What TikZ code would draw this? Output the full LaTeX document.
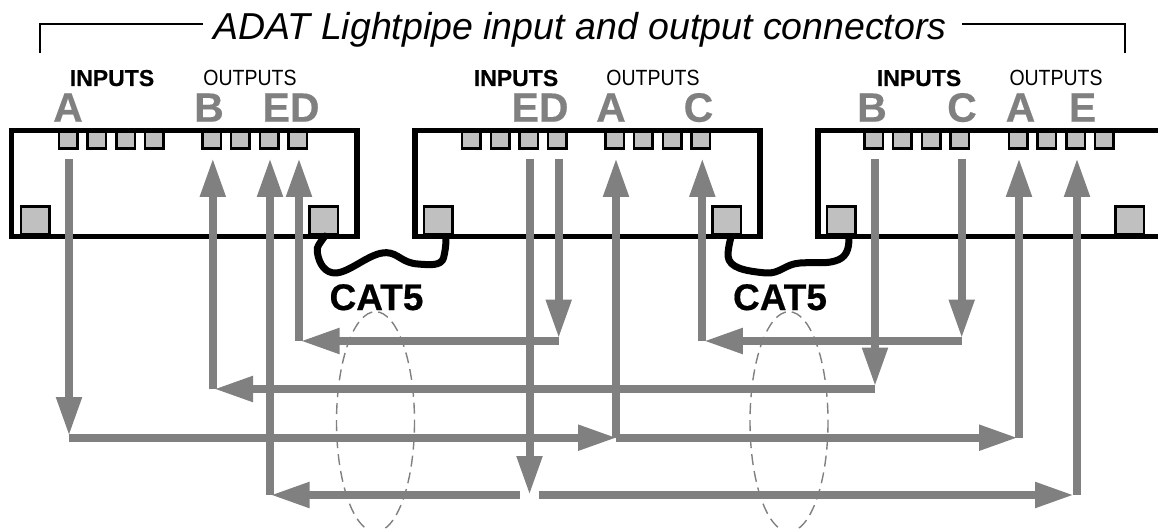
\documentclass[tikz,border=0pt]{standalone}
\usepackage{fontspec}
\usetikzlibrary{arrows.meta}
\setmainfont{Liberation Sans}
\newfontfamily\heavyfont[FakeBold=0.5]{Liberation Sans Bold}
\newfontfamily\letterfont[FakeBold=0.4]{Liberation Sans Bold}
\definecolor{arrowgray}{HTML}{808080}
\definecolor{portfill}{HTML}{C0C0C0}
\tikzset{
  x=1pt,y=-1pt,
  unitbox/.style={draw=black,line width=5.5pt,miter limit=10},
  smallport/.style={draw=black,line width=2.8pt,fill=portfill,anchor=north west,inner sep=0pt,outer sep=0pt,minimum width=18.5pt,minimum height=17pt},
  bigport/.style={draw=black,line width=2.8pt,fill=portfill,anchor=north west,inner sep=0pt,outer sep=0pt,minimum width=28.5pt,minimum height=28pt},
  signal/.style={draw=arrowgray,line width=8pt},
  signalarrow/.style={signal,-{Triangle[length=39pt,width=24pt,fill=arrowgray]}},
  letter/.style={anchor=base,text=arrowgray,font=\fontsize{41}{41}\selectfont\letterfont,inner sep=0pt},
  ins/.style={anchor=base,font=\fontsize{23}{23}\selectfont\heavyfont,inner sep=0pt},
  outs/.style={anchor=base,font=\fontsize{22}{22}\selectfont,inner sep=0pt},
  catlabel/.style={anchor=base,font=\fontsize{37}{37}\selectfont\heavyfont,inner sep=0pt},
  cable/.style={draw=black,line width=7pt,line cap=round,line join=round},
  bracket/.style={draw=black,line width=2pt},
  halo/.style={draw=arrowgray,line width=1.4pt,dash pattern=on 11pt off 6pt},
}
\begin{document}
\begin{tikzpicture}
\useasboundingbox (0,0) rectangle (1158,529);
% title and bracket
\coordinate (bl0) at (40,53);
\coordinate (bl1) at (40,24);
\coordinate (bl2) at (203,24);
\coordinate (br0) at (1125,53);
\coordinate (br1) at (1125,24);
\coordinate (br2) at (962,24);
\draw[bracket] (bl0) -- (bl1) -- (bl2);
\draw[bracket] (br0) -- (br1) -- (br2);
\node[anchor=base,inner sep=0pt,font=\fontsize{37.5}{37.5}\selectfont\itshape] (title) at (580,39.3) {ADAT Lightpipe input and output connectors};
% boxes
\draw[unitbox] (11.5,130.3) rectangle (357,236.3);
\draw[unitbox] (415,130.3) rectangle (760,236.3);
\draw[unitbox] (1158,130.3) -- (818,130.3) -- (818,236.3) -- (1158,236.3);
% ports
\foreach \x [count=\i] in {59,87.5,116.5,145,202.5,231,260,288.5,
  462,491,519.5,548,605.5,634,663,691.5,
  864.5,893,922,950.5,1009,1037.5,1066.5,1095}{\node[smallport] (sp\i) at (\x,131.5) {};}
\foreach \x [count=\i] in {21,309.5,424,712.5,827,1115.5}{\node[bigport] (bp\i) at (\x,206.8) {};}
% labels
\foreach \x/\t [count=\i] in {112/INPUTS,516/INPUTS,919/INPUTS}{\node[ins] (in\i) at (\x,86) {\t};}
\foreach \x/\t [count=\i] in {250/OUTPUTS,653/OUTPUTS,1056/OUTPUTS}{\node[outs] (out\i) at (\x,86) {\scalebox{.885}[1]{\t}};}
\foreach \x/\t [count=\i] in {68/A,209/B,291/ED,540/ED,611/A,698.5/C,872/B,962/C,1020.5/A,1082.5/E}{\node[letter] (let\i) at (\x,121.7) {\t};}
% cables
\draw[cable] (325,236) .. controls (320,243) and (316,247) .. (317.3,252) .. controls (319,265) and (326,273) .. (335,273) .. controls (350,273) and (370,252) .. (386.7,252.7) .. controls (398,253) and (402,263) .. (418,264) .. controls (430,265) and (441,266) .. (443.5,258) .. controls (445,252) and (446,246) .. (446,238);
\draw[cable] (731,237) .. controls (729,245) and (728,250) .. (728,256) .. controls (729,268) and (745,271) .. (766,273) .. controls (780,274) and (785,264) .. (800,263) .. controls (815,262) and (825,264) .. (835,261) .. controls (846,258) and (849,250) .. (849,238);
\node[catlabel] (cat1) at (376.5,310) {CAT5};
\node[catlabel] (cat2) at (780,310) {CAT5};
% signal routing points
\coordinate (at1) at (69,159);      \coordinate (at2) at (69,436);      \coordinate (ah0) at (69,437.7);
\coordinate (ah1) at (617,437.7);   \coordinate (au1) at (616,158);     \coordinate (av1) at (616,437.7);
\coordinate (ah2) at (1018,437.7);  \coordinate (au2) at (1019,158);    \coordinate (av2) at (1019,437.7);
\coordinate (bd0) at (875,159);     \coordinate (bd1) at (875,386.5);   \coordinate (bh0) at (875,389);
\coordinate (bh1) at (214,389);     \coordinate (bu0) at (212.8,389);   \coordinate (bu1) at (212.8,158);
\coordinate (ed0) at (529.5,159);   \coordinate (ed1) at (529.5,495);
\coordinate (eh0) at (520,495);     \coordinate (eh1) at (270.5,495);   \coordinate (ev0) at (270,495);   \coordinate (ev1) at (270,158);
\coordinate (fh0) at (539,495);     \coordinate (fh1) at (1074,495);    \coordinate (fv0) at (1077,495);  \coordinate (fv1) at (1077,158);
\coordinate (dd0) at (558.7,159);   \coordinate (dd1) at (558.7,338.5); \coordinate (dh0) at (558.7,341);
\coordinate (dh1) at (300.5,341);   \coordinate (dv0) at (299,341);     \coordinate (dv1) at (299,158);
\coordinate (cd0) at (961.7,159);   \coordinate (cd1) at (961.7,338.5); \coordinate (ch0) at (961.7,341);
\coordinate (ch1) at (703.8,341);   \coordinate (cv0) at (702.3,341);   \coordinate (cv1) at (702.3,158);
% signals
\draw[signalarrow] (at1) -- (at2);
\draw[signalarrow] (ah0) -- (ah1);
\draw[signalarrow] (av1) -- (au1);
\draw[signalarrow] (av1) -- (ah2);
\draw[signalarrow] (av2) -- (au2);
\draw[signalarrow] (bd0) -- (bd1);
\draw[signalarrow] (bh0) -- (bh1);
\draw[signalarrow] (bu0) -- (bu1);
\draw[signalarrow] (ed0) -- (ed1);
\draw[signalarrow] (eh0) -- (eh1);
\draw[signalarrow] (ev0) -- (ev1);
\draw[signalarrow] (fh0) -- (fh1);
\draw[signalarrow] (fv0) -- (fv1);
\draw[signalarrow] (dd0) -- (dd1);
\draw[signalarrow] (dh0) -- (dh1);
\draw[signalarrow] (dv0) -- (dv1);
\draw[signalarrow] (cd0) -- (cd1);
\draw[signalarrow] (ch0) -- (ch1);
\draw[signalarrow] (cv0) -- (cv1);
% CAT5 bundles
\draw[halo] (375.5,421.7) ellipse [x radius=39,y radius=110];
\draw[halo] (789,421.7) ellipse [x radius=39,y radius=110];
\end{tikzpicture}
\end{document}
